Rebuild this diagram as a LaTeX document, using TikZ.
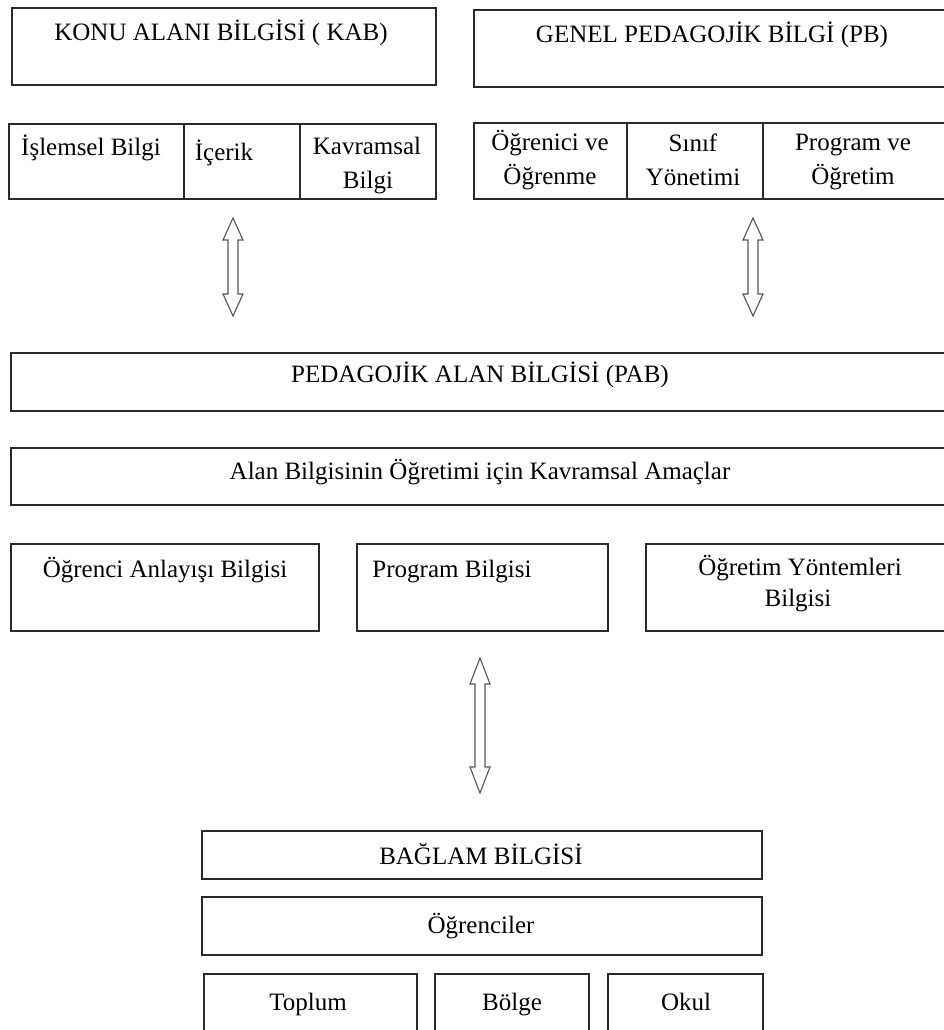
\documentclass[tikz,border=0pt]{standalone}
\usepackage{fontspec}
\setmainfont{Liberation Serif}
\usetikzlibrary{fit,calc}
\definecolor{boxline}{HTML}{2A2A2A}
\definecolor{arrline}{HTML}{555555}
\tikzset{
  box/.style={draw=boxline, line width=1.3pt, inner sep=0pt, fill=none},
  lbl/.style={anchor=base, inner sep=0pt, font=\fontsize{25}{33}\selectfont, text=black},
  arr/.style={draw=arrline, line width=1.1pt, line join=miter, fill=white}
}
\newcommand\dblarr[5]{% name, x, ytop, ybot, head length
  \coordinate (#1t) at (#2,#3);
  \coordinate (#1b) at (#2,#4);
  \draw[arr] (#1t) -- ++(10,#5) -- ++(-5,0) -- ({#2+5},{#4-#5}) -- ++(5,0) -- (#1b)
    -- ++(-10,-#5) -- ++(5,0) -- ({#2-5},{#3+#5}) -- ++(-5,0) -- cycle;}
\begin{document}
\begin{tikzpicture}[x=1pt,y=-1pt]
\useasboundingbox (0,0) rectangle (944,1030);
\clip (0,0) rectangle (944,1030);
\fill[white] (0,0) rectangle (944,1030);
% top left group
\node[box, fit={(12,8) (436,85)}] (kab) {};
\node[lbl] (kabT) at (221,41) {KONU ALANI BİLGİSİ ( KAB)};
\node[box, fit={(9,124) (184,199)}] (isl) {};
\node[box, fit={(184,124) (300,199)}] (ice) {};
\node[box, fit={(300,124) (436,199)}] (kav) {};
\node[lbl] (islT) at (91,155) {İşlemsel Bilgi};
\node[lbl] (iceT) at (224,160) {İçerik};
\node[lbl] (kavT1) at (367,154) {Kavramsal};
\node[lbl] (kavT2) at (368,188) {Bilgi};
% top right group
\node[box, fit={(474,10) (952,87)}] (pb) {};
\node[lbl] (pbT) at (712,43) {GENEL PEDAGOJİK BİLGİ (PB)};
\node[box, fit={(474,123) (627,199)}] (ogr) {};
\node[box, fit={(627,123) (763,199)}] (sin) {};
\node[box, fit={(763,123) (952,199)}] (prg) {};
\node[lbl] (ogrT1) at (550,150) {Öğrenici ve};
\node[lbl] (ogrT2) at (550,184) {Öğrenme};
\node[lbl] (sinT1) at (693,151) {Sınıf};
\node[lbl] (sinT2) at (693,185) {Yönetimi};
\node[lbl] (prgT1) at (853,150) {Program ve};
\node[lbl] (prgT2) at (853,184) {Öğretim};
% arrows top
\dblarr{aL}{233}{218}{316}{22}
\dblarr{aR}{753}{218}{316}{22}
% PAB
\node[box, fit={(11,353) (952,411)}] (pab) {};
\node[lbl] (pabT) at (480,382) {PEDAGOJİK ALAN BİLGİSİ (PAB)};
\node[box, fit={(11,448) (952,505)}] (alan) {};
\node[lbl] (alanT) at (480,479) {Alan Bilgisinin Öğretimi için Kavramsal Amaçlar};
\node[box, fit={(11,544) (319,631)}] (oab) {};
\node[box, fit={(357,544) (608,631)}] (pbl) {};
\node[box, fit={(646,544) (952,631)}] (oyb) {};
\node[lbl] (oabT) at (165,577) {Öğrenci Anlayışı Bilgisi};
\node[lbl] (pblT) at (452,577) {Program Bilgisi};
\node[lbl] (oybT1) at (800,575) {Öğretim Yöntemleri};
\node[lbl] (oybT2) at (798,606) {Bilgisi};
% middle arrow
\dblarr{aM}{480}{658}{793}{26}
% context
\node[box, fit={(202,831) (762,879)}] (bag) {};
\node[lbl] (bagT) at (481,864) {BAĞLAM BİLGİSİ};
\node[box, fit={(202,897) (762,955)}] (ogc) {};
\node[lbl] (ogcT) at (481,933) {Öğrenciler};
\node[box, fit={(204,974) (417,1040)}] (top) {};
\node[box, fit={(435,974) (589,1040)}] (bol) {};
\node[box, fit={(608,974) (763,1040)}] (okul) {};
\node[lbl] (topT) at (308,1010) {Toplum};
\node[lbl] (bolT) at (512,1010) {Bölge};
\node[lbl] (okulT) at (686,1010) {Okul};
\end{tikzpicture}
\end{document}
